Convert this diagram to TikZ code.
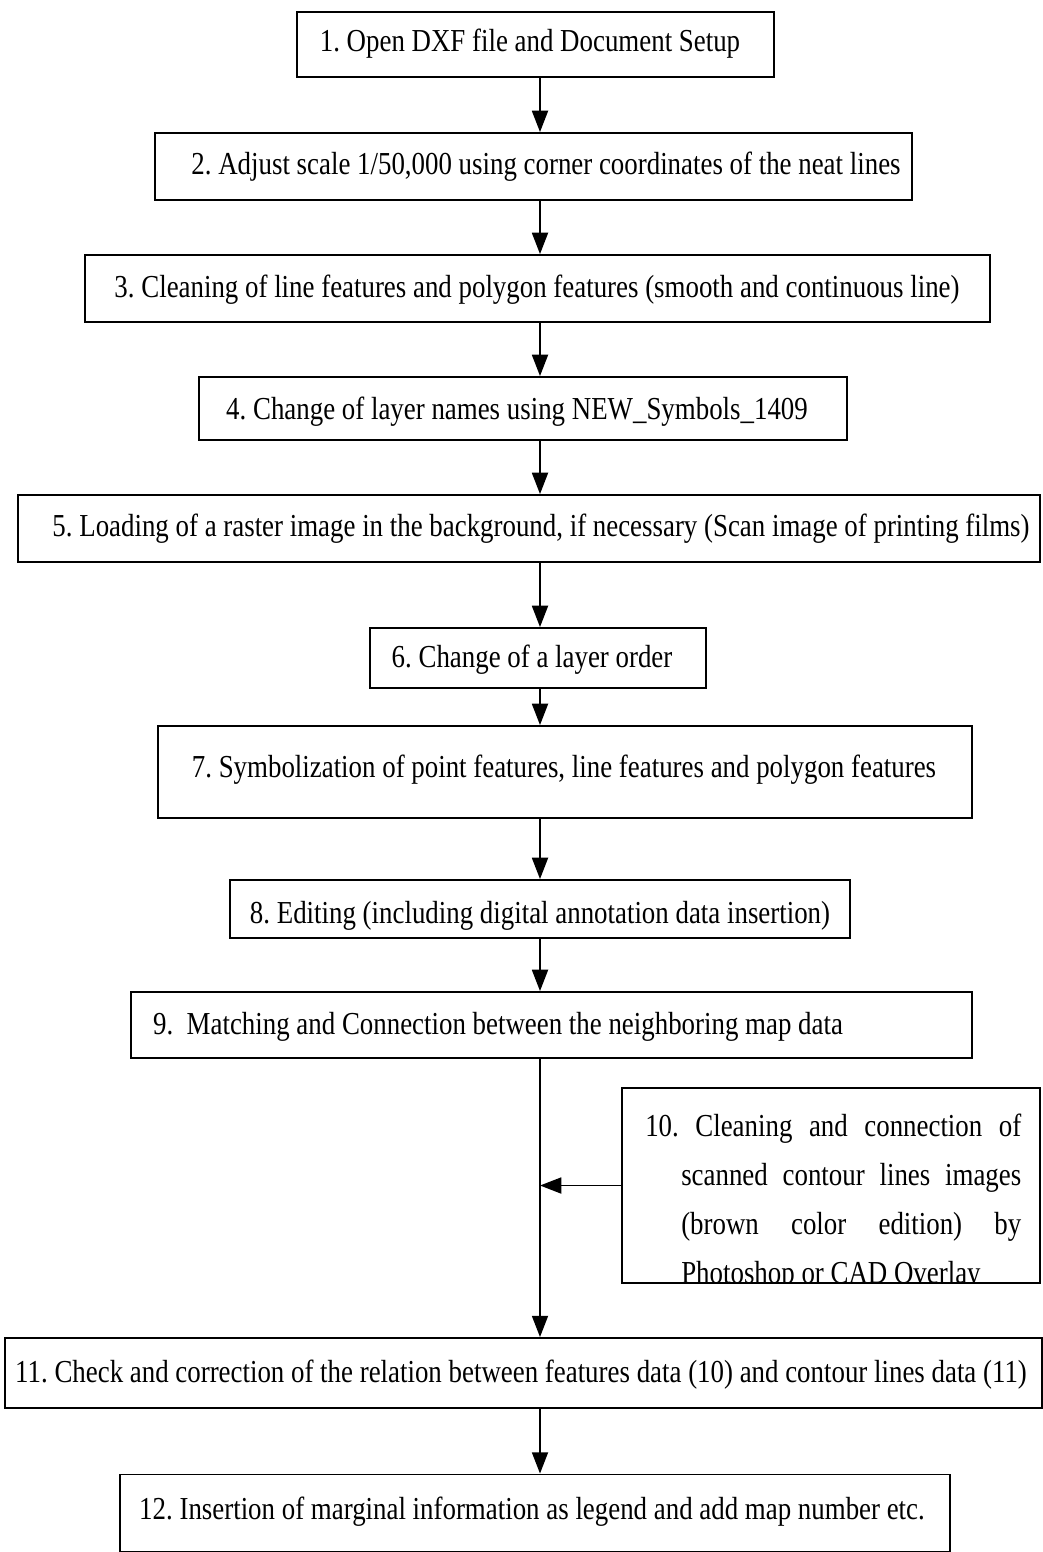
\documentclass[tikz,border=0pt]{standalone}
\usepackage{fontspec}
\setmainfont{Liberation Serif}
\newfontfamily\narrowserif[FakeStretch=0.84]{Liberation Serif}
\usetikzlibrary{arrows.meta}
\begin{document}
\frenchspacing
\begin{tikzpicture}[x=0.75pt,y=-0.75pt,
  stepbox/.style={draw, line width=1.4pt, inner sep=0pt},
  lbl/.style={inner sep=0pt, font=\narrowserif\fontsize{24}{28}\selectfont},
  arr/.style={line width=1.4pt, -{Triangle[length=16pt,width=12pt]}}]
\useasboundingbox (0,0) rectangle (1042,1552);
\coordinate (axis) at (540,0);
% process boxes
\node[stepbox, minimum width=357.75pt, minimum height=48.75pt] (b1) at (535.5,44.5) {};
\node[stepbox, minimum width=567.75pt, minimum height=50.25pt] (b2) at (533.5,166.5) {};
\node[stepbox, minimum width=678.75pt, minimum height=50.25pt] (b3) at (537.5,288.5) {};
\node[stepbox, minimum width=486pt, minimum height=47.25pt] (b4) at (523,408.5) {};
\node[stepbox, minimum width=766.5pt, minimum height=50.25pt] (b5) at (529,528.5) {};
\node[stepbox, minimum width=252pt, minimum height=45pt] (b6) at (538,658) {};
\node[stepbox, minimum width=610.5pt, minimum height=69pt] (b7) at (565,772) {};
\node[stepbox, minimum width=465pt, minimum height=43.5pt] (b8) at (540,909) {};
\node[stepbox, minimum width=630.75pt, minimum height=49.5pt] (b9) at (551.5,1025) {};
\node[stepbox, minimum width=313.5pt, minimum height=146.25pt] (b10) at (831,1185.5) {};
\node[stepbox, minimum width=777.75pt, minimum height=52.5pt] (b11) at (523.5,1373) {};
\node[stepbox, minimum width=622.5pt, minimum height=57.75pt] (b12) at (535,1513) {};
% labels
\node[lbl] (t1) at (530,44) {1. Open DXF file and Document Setup};
\node[lbl] (t2) at (546,167) {2. Adjust scale 1/50,000 using corner coordinates of the neat lines};
\node[lbl] (t3) at (537,290) {3. Cleaning of line features and polygon features (smooth and continuous line)};
\node[lbl] (t4) at (517,412) {4. Change of layer names using NEW\_Symbols\_1409};
\node[lbl] (t5) at (541,529) {5. Loading of a raster image in the background, if necessary (Scan image of printing films)};
\node[lbl] (t6) at (532,660) {6. Change of a layer order};
\node[lbl] (t7) at (564,770) {7. Symbolization of point features, line features and polygon features};
\node[lbl] (t8) at (540,916) {8. Editing (including digital annotation data insertion)};
\node[lbl] (t9) at (498,1027) {9.\ \ Matching and Connection between the neighboring map data};
\node[lbl] (t11) at (521,1375) {11. Check and correction of the relation between features data (10) and contour lines data (11)};
\node[lbl] (t12) at (532,1512) {12. Insertion of marginal information as legend and add map number etc.};
% side box text, cut off by the box frame
\begin{scope}
\clip (b10.north west) rectangle (b10.south east);
\node[lbl, anchor=north west] (t10) at (645,1114)
  {\parbox[t]{282pt}{\narrowserif\fontsize{24}{36.75}\selectfont\hangindent=27pt\hangafter=1
  10. Cleaning and connection of\linebreak scanned contour lines images\linebreak
  (brown color edition) by\linebreak Photoshop or CAD Overlay}};
\end{scope}
% connectors
\draw[arr] (b1.south -| axis) -- (b2.north -| axis);
\draw[arr] (b2.south -| axis) -- (b3.north -| axis);
\draw[arr] (b3.south -| axis) -- (b4.north -| axis);
\draw[arr] (b4.south -| axis) -- (b5.north -| axis);
\draw[arr] (b5.south -| axis) -- (b6.north -| axis);
\draw[arr] (b6.south -| axis) -- (b7.north -| axis);
\draw[arr] (b7.south -| axis) -- (b8.north -| axis);
\draw[arr] (b8.south -| axis) -- (b9.north -| axis);
\draw[arr] (b9.south -| axis) -- (b11.north -| axis);
\draw[arr] (b10.west) -- (b10.west -| axis);
\draw[arr] (b11.south -| axis) -- (b12.north -| axis);
\end{tikzpicture}
\end{document}
